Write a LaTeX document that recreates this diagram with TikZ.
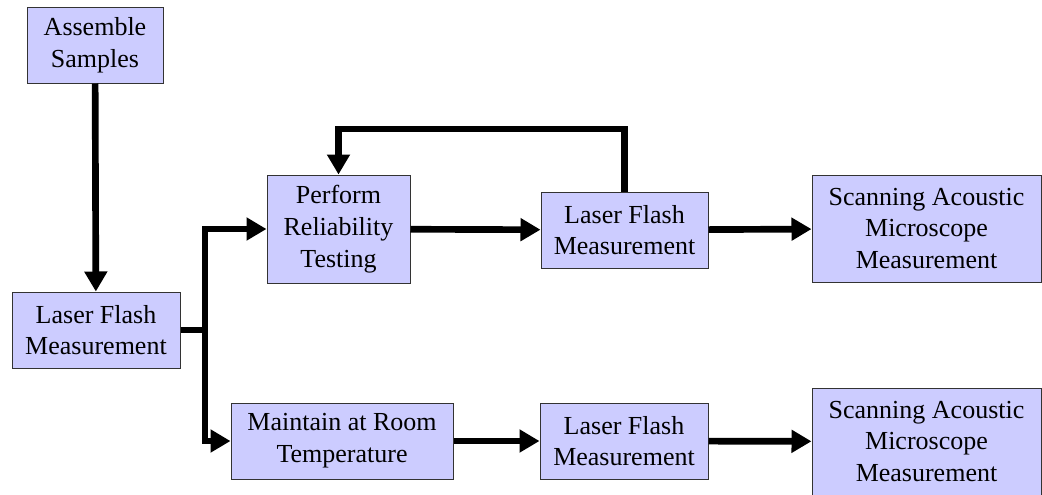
\documentclass[tikz,border=0pt]{standalone}
\usepackage{fontspec}
\setmainfont{Liberation Serif}
\usetikzlibrary{arrows.meta}
\definecolor{boxfill}{RGB}{204,204,255}

\begin{document}
\begin{tikzpicture}[x=0.75pt,y=-0.75pt,line width=5pt,>={Triangle[length=15pt,width=16.5pt]},
  stagebox/.style={draw=black!80,line width=0.75pt,fill=boxfill,align=center,inner sep=0pt,
    font=\fontsize{19.5}{23.8}\selectfont}]
  \useasboundingbox (0,0) rectangle (1042,494);

  \node[stagebox,minimum width=102pt,minimum height=57pt] (assemble) at (95,45) {Assemble\\Samples};
  \node[stagebox,minimum width=126pt,minimum height=57pt] (lfa) at (96,330) {Laser Flash\\Measurement};

  \node[stagebox,minimum width=107.25pt,minimum height=81pt] (rel) at (338.5,229) {Perform\\Reliability\\Testing};
  \node[stagebox,minimum width=125.25pt,minimum height=57pt] (lfb) at (624.5,230) {Laser Flash\\Measurement};
  \node[stagebox,minimum width=171.75pt,minimum height=80.25pt] (samt) at (926.5,228.5) {Scanning Acoustic\\Microscope\\Measurement};

  \node[stagebox,minimum width=166.5pt,minimum height=57pt] (room) at (342,441) {Maintain at Room\\Temperature};
  \node[stagebox,minimum width=126pt,minimum height=57pt] (lfc) at (624,441) {Laser Flash\\Measurement};
  \node[stagebox,minimum width=171.75pt,minimum height=80.25pt] (samb) at (926.5,441.5) {Scanning Acoustic\\Microscope\\Measurement};

  \coordinate (fork) at (205,330);
  \coordinate (back) at (624.5,129);

  \draw[->] (assemble) -- (lfa);
  \draw[->] (lfa.east) -- (fork) |- (rel.west);
  \draw[->] (fork) |- (room.west);
  \draw[->] (rel) -- (lfb);
  \draw[->] (lfb) -- (samt);
  \draw[->] (lfb.north) -- (back) -| (rel.north);
  \draw[->] (room) -- (lfc);
  \draw[->] (lfc) -- (samb);
\end{tikzpicture}
\end{document}
